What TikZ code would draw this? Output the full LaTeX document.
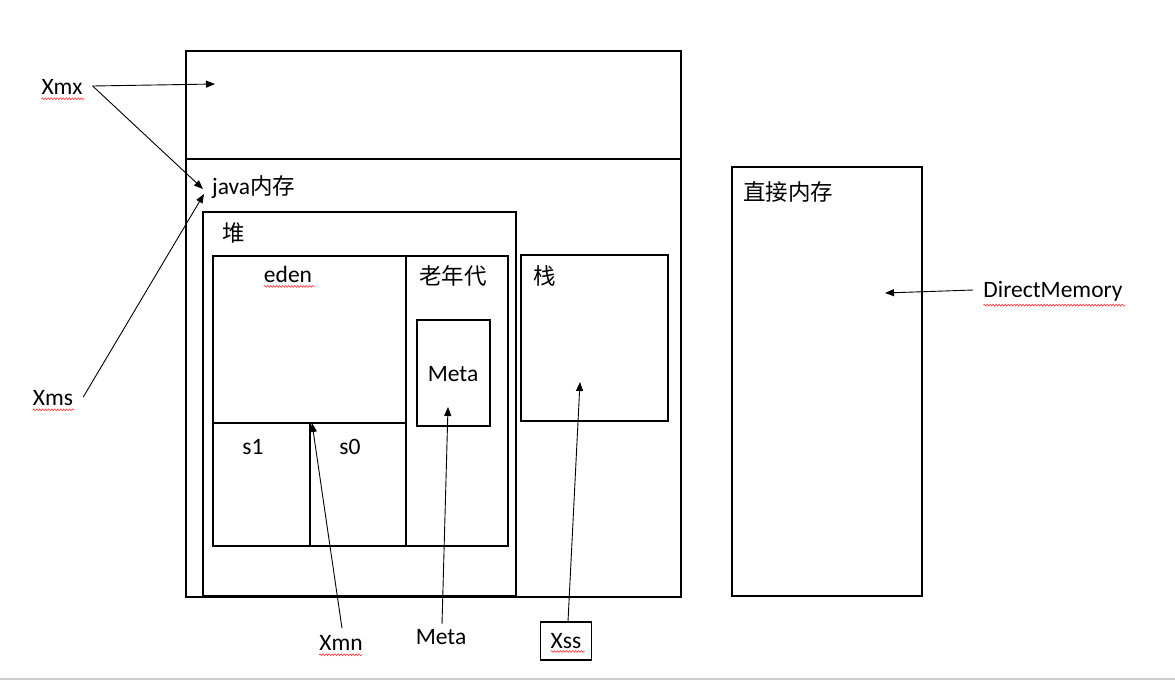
\documentclass[tikz,border=0pt]{standalone}
\usepackage{fontspec}
\setmainfont{Carlito}
\newfontfamily\cjk{Noto Sans CJK SC}
\usetikzlibrary{positioning,arrows.meta,decorations.pathmorphing}

\tikzset{
	box/.style={draw, line width=1.1pt},
	lbl/.style={inner sep=0pt, font=\fontsize{23.5}{26}\selectfont},
	cjklbl/.style={inner sep=0pt, font=\cjk\fontsize{22.5}{26}\selectfont},
	ptr/.style={line width=0.9pt, -{Triangle[length=9pt,width=7pt]}},
	squiggle/.style={red!80, line width=0.6pt, decorate, decoration={snake, amplitude=0.9pt, segment length=3pt}}
}

\begin{document}
\begin{tikzpicture}[x=1pt, y=-1pt]
	\useasboundingbox (0, 0) rectangle (1175, 681);

	% Boxes
	\draw[box] (186, 51) rectangle (681, 597);
	\draw[box] (186, 159) -- (681, 159);
	\draw[box] (203, 212) rectangle (516, 596);
	\draw[box] (213, 256) rectangle (508, 546);
	\draw[box] (406, 256) -- (406, 546);
	\draw[box] (213, 423) -- (406, 423);
	\draw[box] (310, 423) -- (310, 546);
	\draw[box] (417, 320) rectangle (490, 426);
	\draw[box] (521, 255) rectangle (668, 421);
	\draw[box] (732, 167) rectangle (922, 596);
	\draw[gray!40, line width=2pt] (0, 679) -- (1175, 679);

	% Labels
	\node[lbl, anchor=west] (java) at (212, 187) {java\cjk\fontsize{22.5}{26}\selectfont 内存};
	\node[cjklbl] (heap) at (234, 233) {堆};
	\node[lbl] (eden) at (288, 274) {eden};
	\node[cjklbl] (old) at (453, 276) {老年代};
	\node[lbl] (metain) at (453, 374) {Meta};
	\node[lbl] (sone) at (253, 447) {s1};
	\node[lbl] (szero) at (350, 447) {s0};
	\node[cjklbl] (stack) at (545, 276) {栈};
	\node[cjklbl] (direct) at (788, 192) {直接内存};

	\node[lbl] (xmx) at (62, 87) {Xmx};
	\node[lbl] (xms) at (53, 398) {Xms};
	\node[lbl] (xmn) at (341, 643) {Xmn};
	\node[lbl] (meta) at (441, 637) {Meta};
	\node[lbl, draw, line width=1.1pt, minimum width=51pt, minimum height=38pt] (xss) at (566, 641) {Xss};
	\node[lbl] (dmem) at (1053, 291) {DirectMemory};

	% Arrow tips
	\coordinate (topend) at (215, 84);
	\coordinate (javaend) at (203, 189);
	\coordinate (javaend2) at (204, 194);
	\coordinate (survend) at (312, 423);
	\coordinate (metaend) at (448, 407);
	\coordinate (stackend) at (580, 382);
	\coordinate (directend) at (885, 293);

	% Arrows
	\draw[ptr] (xmx.east) ++(10, -1) -- (topend);
	\draw[ptr] (xmx.east) ++(10, -1) -- (javaend);
	\draw[ptr] (xms.east) ++(10, -1) -- (javaend2);
	\draw[ptr] (xmn.north) ++(1, -7) -- (survend);
	\draw[ptr] (meta.north) ++(1, -5) -- (metaend);
	\draw[ptr] (xss.north) ++(2, 0) -- (stackend);
	\draw[ptr] (dmem.west) ++(-10, -1) -- (directend);

	% Spelling marks
	\draw[squiggle] (xmx.south west) ++(0, 4) -- ++(43, 0);
	\draw[squiggle] (xms.south west) ++(0, 4) -- ++(42, 0);
	\draw[squiggle] (eden.south west) ++(0, 4) -- ++(51, 0);
	\draw[squiggle] (xmn.south west) ++(0, 4) -- ++(43, 0);
	\draw[squiggle] (xss.text) ++(0, 3) -- ++(34, 0);
	\draw[squiggle] (dmem.south west) ++(0, 4) -- ++(142, 0);
\end{tikzpicture}
\end{document}
